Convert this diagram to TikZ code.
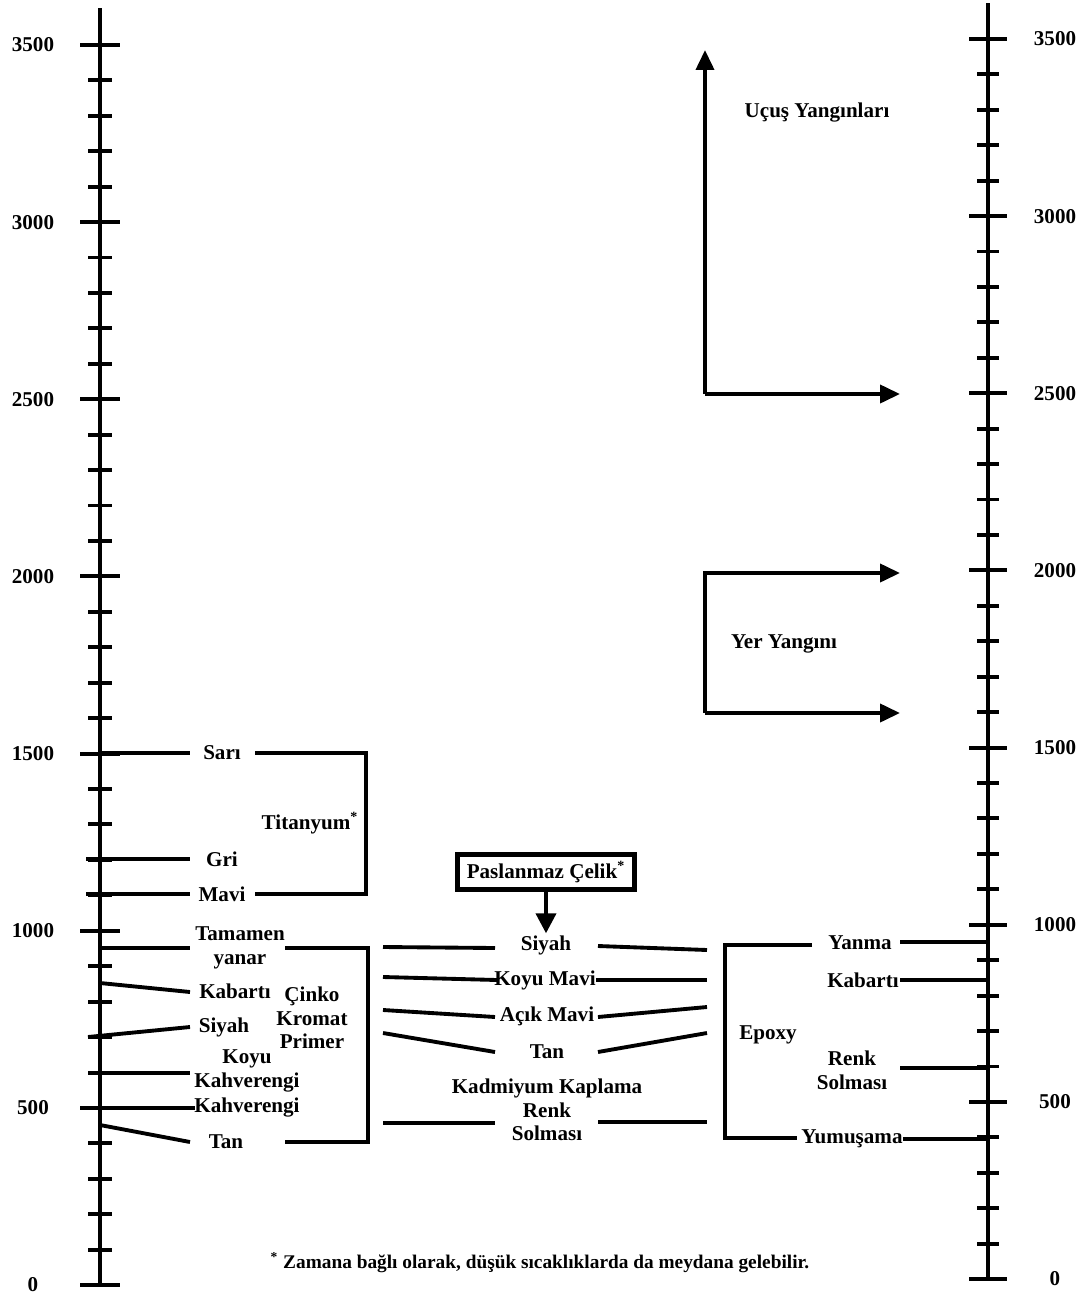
\documentclass[tikz,border=0pt]{standalone}
\usepackage{fontspec}
\setmainfont{Liberation Serif}
\usepackage{tikz}
\usetikzlibrary{arrows.meta}

\begin{document}
\begin{tikzpicture}[x=0.02cm,y=-0.02cm,
    bar/.style={line width=2.2pt},
    tri/.style={bar,-{Triangle[length=0.4cm,width=0.36cm]}},
    lbl/.style={font=\fontsize{12}{13.5}\selectfont\bfseries,inner sep=1pt,align=center}]
                \useasboundingbox (0,0) rectangle (1088,1295);
                % left scale
                \draw[bar] (100,8) -- (100,1285);
                \foreach \v in {0,500,...,3500} {
                    \draw[bar] (80,{1285-0.3543*\v}) -- (120,{1285-0.3543*\v});
                    \node[lbl] (ln\v) at (33,{1285-0.3543*\v}) {\v};
                }
                \foreach \m in {0,500,...,3000}
                    \foreach \k in {100,200,300,400}
                        \draw[bar] (88,{1285-0.3543*(\m+\k)}) -- (112,{1285-0.3543*(\m+\k)});
                % right scale
                \draw[bar] (988,3) -- (988,1279);
                \foreach \v in {0,500,...,3500} {
                    \draw[bar] (969,{1279-0.3543*\v}) -- (1007,{1279-0.3543*\v});
                    \node[lbl] (rn\v) at (1055,{1279-0.3543*\v}) {\v};
                }
                \foreach \m in {0,500,...,3000}
                    \foreach \k in {100,200,300,400}
                        \draw[bar] (977,{1279-0.3543*(\m+\k)}) -- (999,{1279-0.3543*(\m+\k)});
                % titanyum
                \node[lbl] (sari) at (222,753) {Sarı};
                \node[lbl] (gri) at (222,859) {Gri};
                \node[lbl] (mavi) at (222,894) {Mavi};
                \node[lbl] (titan) at (310,823) {Titanyum\textsuperscript{*}};
                \draw[bar] (100,753) -- (190,753);
                \draw[bar] (86,859) -- (190,859);
                \draw[bar] (86,894) -- (190,894);
                \draw[bar] (255,753) -- (366,753) -- (366,894) -- (255,894);
                % cinko kromat primer
                \node[lbl] (tamamen) at (240,948) {Tamamen\\yanar};
                \node[lbl] (kabL) at (235,991) {Kabartı};
                \node[lbl] (siyL) at (224,1027) {Siyah};
                \node[lbl] (koyuk) at (247,1071) {Koyu\\Kahverengi};
                \node[lbl] (kahve) at (247,1107) {Kahverengi};
                \node[lbl] (tanL) at (226,1142) {Tan};
                \node[lbl] (cinko) at (312,1018) {Çinko\\Kromat\\Primer};
                \draw[bar] (100,948) -- (190,948);
                \draw[bar] (100,983) -- (190,992);
                \draw[bar] (88,1037) -- (190,1027);
                \draw[bar] (88,1073) -- (190,1073);
                \draw[bar] (100,1108) -- (195,1108);
                \draw[bar] (100,1125) -- (190,1142);
                \draw[bar] (285,948) -- (368,948) -- (368,1142) -- (285,1142);
                % kadmiyum
                \node[lbl,draw,line width=2.6pt,minimum width=3.54cm,minimum height=0.7cm] (celik) at (546,872) {Paslanmaz Çelik\textsuperscript{*}};
                \node[lbl] (siyM) at (546,945) {Siyah};
                \node[lbl] (koyuM) at (545,980) {Koyu Mavi};
                \node[lbl] (acikM) at (547,1016) {Açık Mavi};
                \node[lbl] (tanM) at (547,1052) {Tan};
                \node[lbl] (kadm) at (547,1110) {Kadmiyum Kaplama\\Renk\\Solması};
                \draw[bar,-{Triangle[length=0.4cm,width=0.4cm]}] (celik.south) -- (siyM.north);
                \draw[bar] (383,947) -- (495,948);
                \draw[bar] (598,946) -- (707,950);
                \draw[bar] (383,977) -- (497,980);
                \draw[bar] (596,980) -- (707,980);
                \draw[bar] (383,1010) -- (495,1017);
                \draw[bar] (598,1017) -- (707,1007);
                \draw[bar] (383,1033) -- (495,1052);
                \draw[bar] (598,1052) -- (707,1033);
                \draw[bar] (383,1123) -- (495,1123);
                \draw[bar] (598,1122) -- (707,1122);
                % epoxy
                \node[lbl] (yanma) at (860,943) {Yanma};
                \node[lbl] (kabR) at (863,980) {Kabartı};
                \node[lbl] (epoxy) at (768,1035) {Epoxy};
                \node[lbl] (renk) at (852,1070) {Renk\\Solması};
                \node[lbl] (yumus) at (852,1139) {Yumuşama};
                \draw[bar] (812,945) -- (725,945) -- (725,1138) -- (797,1138);
                \draw[bar] (900,942) -- (988,942);
                \draw[bar] (900,980) -- (988,980);
                \draw[bar] (900,1068) -- (988,1068);
                \draw[bar] (903,1139) -- (988,1139);
                % yanginlar
                \node[lbl] (ucus) at (817,113) {Uçuş Yangınları};
                \node[lbl] (yer) at (784,644) {Yer Yangını};
                \draw[tri] (705,394) -- (705,50);
                \draw[tri] (705,394) -- (900,394);
                \draw[tri] (705,713) -- (705,573) -- (900,573);
                \draw[tri] (705,713) -- (900,713);
                % dipnot
                \node[lbl,font=\fontsize{11}{13}\selectfont\bfseries] (dipnot) at (540,1263) {\textsuperscript{*} Zamana bağlı olarak, düşük sıcaklıklarda da meydana gelebilir.};
            \end{tikzpicture}
\end{document}
